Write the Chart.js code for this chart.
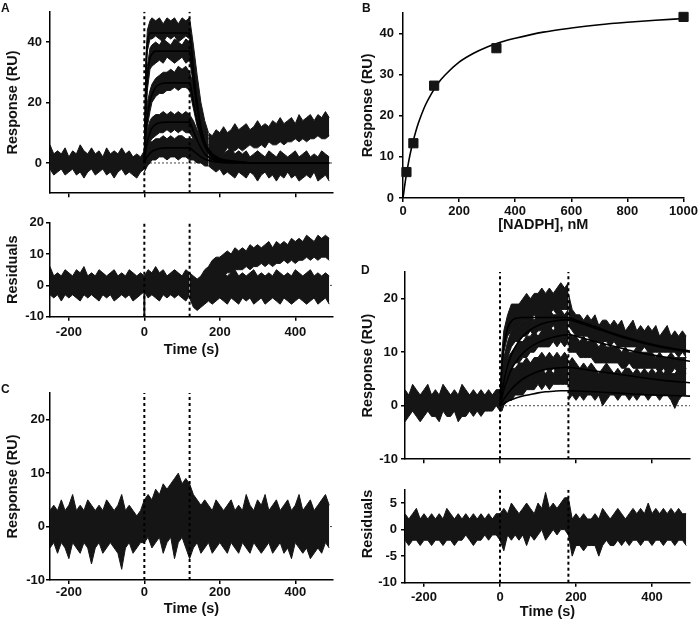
<!DOCTYPE html>
<html>
<head>
<meta charset="utf-8">
<script src="https://cdn.jsdelivr.net/npm/chart.js@4.4.0/dist/chart.umd.min.js"></script>
<style>
  body { margin: 0; background: #fff; }
  #fig { position: relative; width: 700px; height: 621px; overflow: hidden; }
  #fig canvas { position: absolute; }
  .tag { position: absolute; font: bold 12px "Liberation Sans", Arial, sans-serif; color: #111; line-height: 12px; }
</style>
</head>
<body>
<div id="fig">
  <canvas id="aMain" width="340" height="205" style="left:0px;top:0px"></canvas>
  <canvas id="aRes" width="340" height="148" style="left:0px;top:212px"></canvas>
  <canvas id="bFit" width="345" height="238" style="left:355px;top:0px"></canvas>
  <canvas id="cMain" width="340" height="251" style="left:0px;top:370px"></canvas>
  <canvas id="dMain" width="345" height="215" style="left:355px;top:255px"></canvas>
  <canvas id="dRes" width="345" height="143" style="left:355px;top:478px"></canvas>
  <div class="tag" style="left:1px;top:2px">A</div>
  <div class="tag" style="left:362px;top:2px">B</div>
  <div class="tag" style="left:1px;top:383px">C</div>
  <div class="tag" style="left:361px;top:264px">D</div>
</div>
<script>
// ejes
const timeRange = [-250, 500];
const timeTicks = [-200, 0, 200, 400];
const aRespRange = [-10, 50];
const aRespTicks = [0, 20, 40];
const aResRange = [-10, 20];
const aResTicks = [-10, 0, 10, 20];
const bConcRange = [0, 1000];
const bConcTicks = [0, 200, 400, 600, 800, 1000];
const bRespRange = [0, 45];
const bRespTicks = [0, 10, 20, 30, 40];
const cRespRange = [-10, 25];
const cRespTicks = [-10, 0, 10, 20];
const dRespRange = [-10, 25];
const dRespTicks = [-10, 0, 10, 20];
const dResRange = [-10, 7.5];
const dResTicks = [-10, -5, 0, 5];

// inyecciones (s)
const injA = [0, 120];
const injD = [0, 180];

// A: sensorgramas (bandas de ruido, arriba / abajo)
const aBaseT = [-250,-240,-230,-220,-210,-200,-190,-180,-170,-160,-150,-140,-130,-120,-110,-100,-90,-80,-70,-60,-50,-40,-30,-20,-10,0];
const aBaseHi = [6,3,4,3,5,2,4,3,6,4,3,5,3,4,2,5,3,4,3,5,3,4,2,3,2,4];
const aBaseLo = [-2,-4,-3,-2,-4,-3,-2,-4,-3,-5,-3,-2,-4,-3,-2,-4,-3,-5,-3,-2,-4,-3,-4,-5,-3,-2];

const aOnT = [0,4,8,15,20,30,40,50,60,70,80,90,100,110,120,130,140,150,160,170];
const a1Hi = [3,34,44,47,48,47,48,46,48,47,48,46,48,47,48,39,29,20,14,10];
const a1Lo = [-2,26,37,41,41,42,41,40,42,41,42,40,41,42,41,31,21,12,7,4];
const a2Hi = [3,22,32,38,39,40,39,41,40,39,41,40,39,41,40,34,25,18,12,9];
const a2Lo = [-2,14,24,31,32,33,34,33,35,34,33,34,35,33,34,26,17,10,6,3];
const a3Hi = [3,14,20,24,26,28,29,30,30,31,30,32,31,32,30,26,20,14,10,8];
const a3Lo = [-2,7,12,17,20,22,23,23,24,24,25,24,25,25,24,18,12,8,4,2];
const a4Hi = [3,8,11,14,15,16,16,17,16,17,16,17,16,17,16,14,11,9,7,6];
const a4Lo = [-2,2,5,7,8,9,10,10,11,10,11,10,11,10,10,8,5,3,1,0];
const a5Hi = [3,5,6,7,7,8,8,9,8,9,8,9,9,8,8,8,7,6,5,5];
const a5Lo = [-3,-2,-1,0,1,1,2,2,1,2,2,1,2,2,1,1,0,0,-1,-1];

const aOffT = [170,180,190,200,210,220,230,240,250,260,270,280,290,300,310,320,330,340,350,360,370,380,390,400,410,420,430,440,450,460,470,480,490];
const aDriftHi = [10,9,11,10,12,10,11,13,11,12,13,11,12,14,12,13,12,14,13,15,13,14,15,13,16,14,15,16,14,16,15,17,15];
const aDriftLo = [3,4,3,4,3,5,4,4,5,4,5,6,5,5,6,5,7,6,6,7,6,7,7,8,7,8,7,8,8,9,8,8,9];
const aLowHi = [6,5,4,5,3,4,5,3,4,3,4,2,3,4,3,2,4,3,2,4,3,2,3,4,2,3,4,2,3,2,4,3,2];
const aLowLo = [-1,-2,-3,-2,-4,-3,-4,-5,-3,-4,-5,-3,-4,-6,-4,-3,-5,-4,-6,-4,-5,-3,-5,-4,-6,-5,-4,-5,-3,-6,-5,-4,-6];

// A: ajustes
const fitAT = [0,5,10,15,20,30,40,60,120,125,130,140,150,160,180,200,250,300,490];
const fitA1 = [0,33,41,43,43,43,43,43,43,38,31,20,12,7,3,1.5,0.5,0,0];
const fitA2 = [0,22,31,34.5,36,37,37,37,37,33,27,18,11,6.5,2.5,1.2,0.3,0,0];
const fitA3 = [0,11,17,20.5,22.5,25,26,26.5,26.5,24,20,14,9,5.5,2,1,0.3,0,0];
const fitA4 = [0,5,8,10,11.5,12.8,13.3,13.5,13.5,12.2,10.5,7.5,5,3,1.2,0.5,0.1,0,0];
const fitA5 = [0,1.5,2.5,3.2,3.8,4.4,4.8,5,5,4.6,4,3,2,1.3,0.5,0.2,0,0,0];

// A: residuales
const resABaseT = [-250,-240,-230,-220,-210,-200,-190,-180,-170,-160,-150,-140,-130,-120,-110,-100,-90,-80,-70,-60,-50,-40,-30,-20,-10,0,10,20,30,40,50,60,70,80,90,100,110,120];
const resABaseHi = [6,3,4,3,5,4,3,5,4,6,3,4,3,5,4,3,4,5,3,4,3,5,4,3,4,3,5,4,6,4,5,3,4,5,4,3,5,4];
const resABaseLo = [-3,-4,-3,-5,-3,-4,-3,-4,-5,-3,-4,-3,-4,-5,-3,-4,-3,-5,-4,-3,-4,-3,-5,-4,-3,-2,-4,-3,-4,-5,-3,-4,-3,-4,-3,-4,-5,-3];
const resASpikeT = [0, 0];
const resASpikeY = [0, -10];
const resAOffT = [120,130,140,150,160,170,180,190,200,210,220,230,240,250,260,270,280,290,300,310,320,330,340,350,360,370,380,390,400,410,420,430,440,450,460,470,480,490];
const resALowHi = [4,3,2,3,4,3,4,5,3,4,3,4,5,3,4,3,4,5,3,4,3,4,3,5,4,3,4,3,5,4,3,4,5,3,4,3,4,3];
const resALowLo = [-4,-7,-8,-7,-6,-5,-6,-5,-4,-5,-6,-4,-5,-6,-4,-5,-4,-6,-5,-4,-6,-5,-4,-5,-6,-4,-5,-6,-5,-4,-5,-6,-5,-4,-6,-5,-4,-6];
const resADriftT = [150,160,170,180,190,200,210,220,230,240,250,260,270,280,290,300,310,320,330,340,350,360,370,380,390,400,410,420,430,440,450,460,470,480,490];
const resADriftHi = [3,5,6,8,9,9,10,11,10,12,11,12,11,13,12,13,12,13,14,12,14,13,14,13,15,14,15,14,16,15,14,16,15,16,15];
const resADriftLo = [-1,-1,1,1,2,3,3,4,4,5,5,5,6,5,6,6,7,6,7,6,7,7,8,7,8,7,8,8,9,8,9,8,9,9,8];

// B: respuesta en equilibrio
const bConc = [12.3, 37, 111, 333, 1000];
const bResp = [6.3, 13.3, 27.3, 36.4, 44];
const bFitX = [0,10,20,30,40,50,60,80,100,125,150,200,250,300,350,400,500,600,700,800,900,1000];
const bFitY = [0,4.8,8.8,12.1,14.8,17.2,19.2,22.6,25.2,27.9,29.9,33.0,35.1,36.7,37.9,38.8,40.3,41.3,42.1,42.7,43.2,43.6];

// C: una sola banda
const cT = [-250,-240,-230,-220,-210,-200,-190,-180,-170,-160,-150,-140,-130,-120,-110,-100,-90,-80,-70,-60,-50,-40,-30,-20,-10,
  0,10,20,30,40,50,60,70,80,90,100,110,120,
  130,140,150,160,170,180,190,200,210,220,230,240,250,260,270,280,290,300,310,320,330,340,350,360,370,380,390,400,410,420,430,440,450,460,470,480,490];
const cHi = [3,4,3,5,3,4,6,3,4,3,5,4,3,4,3,5,4,3,4,6,3,4,3,2,3,
  5,6,5,7,6,8,7,8,9,10,8,9,8,
  6,5,4,5,4,3,5,4,3,4,5,3,4,3,6,4,3,5,4,6,3,4,5,3,4,5,3,4,6,3,4,5,3,4,5,6,4];
const cLo = [-4,-3,-5,-3,-4,-6,-3,-4,-5,-3,-4,-7,-4,-3,-5,-4,-3,-4,-5,-8,-4,-3,-5,-4,-3,
  -3,-2,-4,-3,-2,-5,-3,-2,-6,-3,-2,-4,-6,
  -4,-3,-5,-4,-3,-5,-4,-3,-4,-5,-3,-4,-5,-3,-4,-5,-3,-4,-5,-4,-3,-5,-4,-3,-5,-4,-6,-3,-4,-5,-4,-6,-5,-4,-5,-3,-4];

// D: sensorgramas
const dBaseT = [-250,-240,-230,-220,-210,-200,-190,-180,-170,-160,-150,-140,-130,-120,-110,-100,-90,-80,-70,-60,-50,-40,-30,-20,-10,0];
const dBaseHi = [3,2,4,3,2,3,4,2,3,2,4,3,2,3,2,4,3,2,3,2,3,2,3,2,3,3];
const dBaseLo = [-3,-2,-1,-2,-3,-2,-1,-2,-2,-3,-1,-2,-2,-1,-3,-2,-2,-1,-2,-1,-2,-1,-1,-1,0,-1];

const dOnT = [0,5,10,20,30,40,50,60,70,80,90,100,110,120,130,140,150,160,170,180];
const d1Hi = [2,10,14,17,19,19,19,20,21,20,21,21,22,21,22,21,22,23,22,23];
const d1Lo = [-1,6,10,13,14,15,15,16,16,16,17,16,17,17,17,18,17,18,18,18];
const d2Hi = [1,6,9,12,14,15,15,16,16,17,16,17,17,17,18,17,17,18,17,18];
const d2Lo = [-1,3,6,9,11,12,12,13,13,14,13,14,14,14,14,15,14,14,15,15];
const d3Hi = [1,4,7,9,10,11,12,12,13,13,14,13,14,14,15,14,15,14,15,15];
const d3Lo = [-1,1,3,5,7,8,8,9,9,10,10,11,11,11,11,12,11,12,11,12];
const d4Hi = [1,3,4,6,7,7,8,8,9,8,9,9,10,9,10,9,10,9,10,9];
const d4Lo = [-1,0,1,2,3,4,4,5,5,6,6,6,6,7,6,7,6,7,6,7];
const d5Hi = [1,2,3,4,5,5,6,5,6,6,7,6,7,6,7,6,7,7,6,7];
const d5Lo = [-1,-1,0,1,1,2,2,2,3,3,3,4,3,4,3,4,4,4,4,4];

const dOffT = [180,190,200,210,220,230,240,250,260,270,280,290,300,310,320,330,340,350,360,370,380,390,400,410,420,430,440,450,460,470,480,490];
const dUpHi = [21,18,17,17,16,17,16,17,15,16,16,15,16,15,16,14,15,16,14,15,14,15,14,15,13,14,15,13,14,13,14,13];
const dUpLo = [15,14,13,13,13,13,12,12,12,12,12,11,12,11,11,11,11,11,11,10,11,10,10,10,10,10,10,10,10,9,10,9];
const dMidHi = [14,13,13,12,13,12,12,12,11,12,11,11,11,11,10,11,10,10,11,10,10,10,10,9,10,9,9,10,9,9,9,9];
const dMidLo = [10,10,10,9,9,9,9,8,8,8,8,8,8,8,7,7,8,7,7,7,7,7,7,7,6,7,6,6,7,6,6,6];
const dLowHi = [8,9,8,7,8,7,8,7,6,7,8,7,6,7,6,7,7,6,7,6,7,6,7,6,7,6,7,6,6,7,6,7];
const dLowLo = [1,2,1,2,1,2,2,1,2,0,1,2,2,1,2,2,1,2,1,2,2,1,2,2,1,2,2,1,-0.5,1,2,2];

// D: ajustes
const fitDT = [0,5,10,20,30,40,60,80,100,120,140,160,180,200,250,300,350,400,450,500];
const fitD1 = [0,7,11,14.5,15.8,16.3,16.5,16.5,16.5,16.5,16.5,16.5,16.5,16,14.8,13.5,12.4,11.5,10.8,10.2];
const fitD2 = [0,2.5,4.5,7.5,9.5,11,13,14.2,15,15.5,15.8,16,16.1,15.7,14.5,13.3,12.2,11.3,10.6,10];
const fitD3 = [0,1.5,3,5,6.8,8,9.8,11,11.8,12.4,12.8,13.1,13.3,13,12,11.1,10.2,9.5,8.9,8.3];
const fitD4 = [0,0.6,1.2,2.2,3.1,3.8,5,5.8,6.4,6.8,7,7.1,7.2,7,6.5,6,5.5,5,4.6,4.3];
const fitD5 = [0,0.2,0.4,0.8,1.1,1.4,1.8,2.1,2.4,2.6,2.7,2.8,2.8,2.75,2.6,2.4,2.2,2,1.9,1.8];

// D: residuales
const resDT = [-250,-240,-230,-220,-210,-200,-190,-180,-170,-160,-150,-140,-130,-120,-110,-100,-90,-80,-70,-60,-50,-40,-30,-20,-10,
  0,10,20,30,40,50,60,70,80,90,100,110,120,130,140,150,160,170,180,
  190,200,210,220,230,240,250,260,270,280,290,300,310,320,330,340,350,360,370,380,390,400,410,420,430,440,450,460,470,480,490];
const resDHi = [3,2,3,4,2,3,2,3,2,3,2,4,3,2,3,2,3,2,3,2,3,2,3,2,3,
  3,4,3,5,4,3,4,5,4,3,5,4,7,4,5,4,5,6,6,
  2,3,2,3,2,2,3,2,4,3,2,3,4,3,2,3,4,3,4,3,5,3,4,3,4,3,4,3,4,3,3];
const resDLo = [-2,-3,-2,-2,-3,-2,-2,-3,-2,-2,-3,-2,-2,-3,-2,-2,-1,-2,-3,-2,-2,-1,-2,-1,-1,
  -2,-4,-1,-2,-1,-2,-1,-3,-1,-2,-1,0,-2,-1,0,-1,0,0,-1,
  -5,-3,-3,-4,-3,-3,-3,-5,-3,-2,-3,-3,-2,-3,-2,-3,-2,-2,-3,-2,-2,-3,-2,-2,-3,-2,-2,-3,-2,-2,-3];


Chart.defaults.font.family = '"Liberation Sans", Arial, sans-serif';
const ink = '#151515';
const tickFont = { size: 13, weight: 'bold' };
const titleFont = { size: 14.5, weight: 'bold' };

const pts = (xs, ys) => xs.map((x, i) => ({ x: x, y: ys[i] }));

function band(xs, hi, lo) {
    return [
        { data: pts(xs, hi), borderColor: ink, borderWidth: 1, pointRadius: 0, fill: false, order: 4 },
        { data: pts(xs, lo), borderColor: ink, borderWidth: 1, pointRadius: 0, fill: '-1', backgroundColor: ink, order: 4 }
    ];
}

function fitLine(xs, ys) {
    return { data: pts(xs, ys), borderColor: '#000', borderWidth: 1.6, pointRadius: 0, fill: false,
        cubicInterpolationMode: 'monotone', order: 1 };
}

function vLine(x, range) {
    return { data: [{ x: x, y: range[0] }, { x: x, y: range[1] }], borderColor: '#000', borderWidth: 2,
        borderDash: [3, 3], pointRadius: 0, fill: false, order: 2 };
}

function zeroLine(range) {
    return { data: [{ x: range[0], y: 0 }, { x: range[1], y: 0 }], borderColor: '#444', borderWidth: 1,
        borderDash: [2, 2], pointRadius: 0, fill: false, order: 5 };
}

function axis(range, ticks, o) {
    return {
        type: 'linear', min: range[0], max: range[1],
        border: { display: true, color: '#000', width: 1.5 },
        grid: { display: true, drawOnChartArea: false, drawTicks: true, tickLength: 4, color: '#000', lineWidth: 1.5 },
        ticks: { display: o.labels !== false, color: '#111', padding: o.pad || 0, font: tickFont, callback: v => String(v) },
        title: o.title ? { display: true, text: o.title, color: '#111', font: titleFont, align: o.align || 'center',
            padding: o.tpad === undefined ? 4 : o.tpad } : { display: false },
        afterBuildTicks: s => { s.ticks = ticks.map(v => ({ value: v })); },
        afterFit: s => { if (s.isHorizontal()) s.height = o.size; else s.width = o.size; }
    };
}

function dibujar(id, datasets, xAxis, yAxis, pad) {
    new Chart(document.getElementById(id), {
        type: 'line',
        data: { datasets: datasets },
        options: {
            responsive: false,
            animation: false,
            devicePixelRatio: 1,
            layout: { padding: { top: pad[0], right: pad[1], bottom: 0, left: 0 } },
            plugins: { legend: { display: false }, tooltip: { enabled: false } },
            elements: { line: { tension: 0 } },
            scales: { x: xAxis, y: yAxis }
        }
    });
}

// A arriba
dibujar('aMain', [
    fitLine(fitAT, fitA1), fitLine(fitAT, fitA2), fitLine(fitAT, fitA3), fitLine(fitAT, fitA4), fitLine(fitAT, fitA5),
    vLine(injA[0], aRespRange), vLine(injA[1], aRespRange),
    ...band(aBaseT, aBaseHi, aBaseLo),
    ...band(aOnT, a1Hi, a1Lo), ...band(aOnT, a2Hi, a2Lo), ...band(aOnT, a3Hi, a3Lo),
    ...band(aOnT, a4Hi, a4Lo), ...band(aOnT, a5Hi, a5Lo),
    ...band(aOffT, aDriftHi, aDriftLo), ...band(aOffT, aLowHi, aLowLo),
    zeroLine(timeRange)
],
    axis(timeRange, timeTicks, { labels: false, size: 8 }),
    axis(aRespRange, aRespTicks, { title: 'Response (RU)', size: 50, pad: 4 }),
    [8, 7]);

// A residuales
dibujar('aRes', [
    { data: pts(resASpikeT, resASpikeY), borderColor: ink, borderWidth: 2, pointRadius: 0, fill: false, order: 3 },
    vLine(injA[0], aResRange), vLine(injA[1], aResRange),
    ...band(resABaseT, resABaseHi, resABaseLo),
    ...band(resAOffT, resALowHi, resALowLo),
    ...band(resADriftT, resADriftHi, resADriftLo),
    zeroLine(timeRange)
],
    axis(timeRange, timeTicks, { title: 'Time (s)', size: 43.3, pad: 4, tpad: 1 }),
    axis(aResRange, aResTicks, { title: 'Residuals', size: 50, pad: 2 }),
    [10.7, 7]);

// B
dibujar('bFit', [
    { data: pts(bConc, bResp), showLine: false, pointStyle: 'rect', pointRadius: 6.5, pointBackgroundColor: ink,
        pointBorderColor: ink, clip: false, order: 0 },
    fitLine(bFitX, bFitY)
],
    axis(bConcRange, bConcTicks, { title: '[NADPH], nM', size: 40, pad: 2 }),
    axis(bRespRange, bRespTicks, { title: 'Response (RU)', size: 48, pad: 5 }),
    [9, 14]);

// C
dibujar('cMain', [
    vLine(injA[0], cRespRange), vLine(injA[1], cRespRange),
    ...band(cT, cHi, cLo),
    zeroLine(timeRange)
],
    axis(timeRange, timeTicks, { title: 'Time (s)', size: 41, pad: 1, tpad: 3 }),
    axis(cRespRange, cRespTicks, { title: 'Response (RU)', size: 50, pad: 1 }),
    [23, 7]);

// D arriba
dibujar('dMain', [
    fitLine(fitDT, fitD1), fitLine(fitDT, fitD2), fitLine(fitDT, fitD3), fitLine(fitDT, fitD4), fitLine(fitDT, fitD5),
    vLine(injD[0], dRespRange), vLine(injD[1], dRespRange),
    ...band(dBaseT, dBaseHi, dBaseLo),
    ...band(dOnT, d1Hi, d1Lo), ...band(dOnT, d2Hi, d2Lo), ...band(dOnT, d3Hi, d3Lo),
    ...band(dOnT, d4Hi, d4Lo), ...band(dOnT, d5Hi, d5Lo),
    ...band(dOffT, dUpHi, dUpLo), ...band(dOffT, dMidHi, dMidLo), ...band(dOffT, dLowHi, dLowLo),
    zeroLine(timeRange)
],
    axis(timeRange, timeTicks, { labels: false, size: 9 }),
    axis(dRespRange, dRespTicks, { title: 'Response (RU)', size: 50, pad: 3 }),
    [17, 10]);

// D residuales
dibujar('dRes', [
    vLine(injD[0], dResRange), vLine(injD[1], dResRange),
    ...band(resDT, resDHi, resDLo)
],
    axis(timeRange, timeTicks, { title: 'Time (s)', size: 38.3, pad: 3, tpad: 0 }),
    axis(dResRange, dResTicks, { title: 'Residuals', size: 50, pad: 4, align: 'end' }),
    [10, 10]);
</script>
</body>
</html>
